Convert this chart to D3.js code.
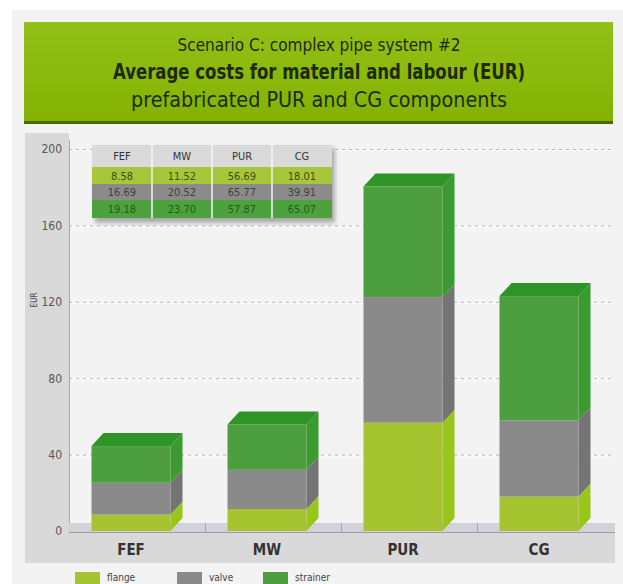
<!DOCTYPE html>
<html>
<head>
<meta charset="utf-8">
<script src="https://cdn.jsdelivr.net/npm/d3@7"></script>
<style>
  body { margin: 0; background: #fff; }
  svg text { font-family: "DejaVu Sans Condensed", "Liberation Sans Narrow", "Roboto", sans-serif; }
</style>
</head>
<body>
<div id="vis"></div>
<script>
// chart data
const categories = ["FEF", "MW", "PUR", "CG"];
const flange = [8.58, 11.52, 56.69, 18.01];
const valve = [16.69, 20.52, 65.77, 39.91];
const strainer = [19.18, 23.70, 57.87, 65.07];
const seriesNames = ["flange", "valve", "strainer"];
const yTicks = [0, 40, 80, 120, 160, 200];
const titleLines = [
    "Scenario C: complex pipe system #2",
    "Average costs for material and labour (EUR)",
    "prefabricated PUR and CG components"
];

let width = 623;
let height = 584;

var svg = d3.select("#vis")
    .append("svg")
    .attr("width", width)
    .attr("height", height);

var defs = svg.append("defs");
var grad = defs.append("linearGradient")
    .attr("id", "titleGrad")
    .attr("x1", 0).attr("y1", 0).attr("x2", 0).attr("y2", 1);
grad.append("stop").attr("offset", "0%").attr("stop-color", "#93c016");
grad.append("stop").attr("offset", "100%").attr("stop-color", "#84b203");

// light panel behind everything
svg.append("rect")
    .attr("x", 12).attr("y", 10)
    .attr("width", 611).attr("height", 574)
    .attr("fill", "#f3f3f3");

// title box
svg.append("rect")
    .attr("x", 24).attr("y", 24)
    .attr("width", 589).attr("height", 100)
    .attr("fill", "#4d6a00");
svg.append("rect")
    .attr("x", 24).attr("y", 22)
    .attr("width", 589).attr("height", 99)
    .attr("fill", "url(#titleGrad)");

var titleY = [51, 79, 107];
var titleSize = [18, 22, 21];
var titleW = [283, 412, 376];
svg.selectAll("text.title")
    .data(titleLines)
    .enter().append("text")
    .attr("class", "title")
    .attr("x", 319)
    .attr("y", (d, i) => titleY[i])
    .attr("text-anchor", "middle")
    .attr("font-size", (d, i) => titleSize[i])
    .attr("font-weight", (d, i) => i === 1 ? "bold" : "normal")
    .attr("textLength", (d, i) => titleW[i])
    .attr("lengthAdjust", "spacingAndGlyphs")
    .attr("fill", "#1e2a04")
    .text(d => d);

// axis frames
var plotLeft = 69, plotRight = 613;
svg.append("rect")
    .attr("x", 25).attr("y", 133)
    .attr("width", plotLeft - 25).attr("height", 430)
    .attr("fill", "#d9d9d9");
svg.append("rect")
    .attr("x", 25).attr("y", 533)
    .attr("width", 590).attr("height", 30)
    .attr("fill", "#d9d9d9");

var y = d3.scaleLinear()
    .domain([0, 200])
    .range([531, 149]);

var x = d3.scaleBand()
    .domain(categories)
    .range([plotLeft, plotRight]);

// dotted grid lines
var grid = svg.append("g");
grid.selectAll("line.w")
    .data(yTicks.filter(d => d > 0))
    .enter().append("line")
    .attr("x1", plotLeft).attr("x2", plotRight)
    .attr("y1", d => y(d) + 1.5).attr("y2", d => y(d) + 1.5)
    .attr("stroke", "#ffffff")
    .attr("stroke-width", 1);
grid.selectAll("line.g")
    .data(yTicks.filter(d => d > 0))
    .enter().append("line")
    .attr("x1", plotLeft).attr("x2", plotRight)
    .attr("y1", d => y(d) + 0.5).attr("y2", d => y(d) + 0.5)
    .attr("stroke", "#b5b5b5")
    .attr("stroke-dasharray", "3,4");

// y axis labels via d3 axis
var yAxis = svg.append("g")
    .attr("transform", "translate(" + (plotLeft - 4) + ",0)")
    .call(d3.axisLeft(y).tickValues(yTicks).tickSize(0).tickPadding(3));
yAxis.select(".domain").remove();
yAxis.selectAll("text")
    .attr("font-size", 12)
    .attr("fill", "#555")
    .attr("font-family", "\"DejaVu Sans Condensed\", sans-serif");

svg.append("text")
    .attr("transform", "translate(37,300) rotate(-90)")
    .attr("text-anchor", "middle")
    .attr("font-size", 8)
    .attr("fill", "#444")
    .text("EUR");

// vertical axis line
svg.append("line")
    .attr("x1", plotLeft + 0.5).attr("x2", plotLeft + 0.5)
    .attr("y1", 140).attr("y2", 533)
    .attr("stroke", "#a8a8a8");

// floor
svg.append("rect")
    .attr("x", plotLeft).attr("y", 523)
    .attr("width", plotRight - plotLeft + 2).attr("height", 9)
    .attr("fill", "#d2d3da");
svg.append("line")
    .attr("x1", plotLeft).attr("x2", plotRight + 2)
    .attr("y1", 532.5).attr("y2", 532.5)
    .attr("stroke", "#9c9ca6");
svg.selectAll("line.ftick")
    .data(categories.slice(1))
    .enter().append("line")
    .attr("x1", d => x(d) + 0.5).attr("x2", d => x(d) + 0.5)
    .attr("y1", 523).attr("y2", 532)
    .attr("stroke", "#a5a5ae");

// stacked 3d bars
var stack = d3.stack().keys(seriesNames);
var rows = categories.map((c, i) => ({
    cat: c, flange: flange[i], valve: valve[i], strainer: strainer[i]
}));
var layers = stack(rows);

var colors = {
    flange: { front: "#a6c430", side: "#98c61a", top: "#b4d23c" },
    valve: { front: "#8a8a8a", side: "#747474", top: "#9a9a9a" },
    strainer: { front: "#4c9e3e", side: "#3b9a30", top: "#2f9428" }
};

var barW = 79, dx = 12, dy = 13;

function frontX(cat) {
    return x(cat) + x.bandwidth() / 2 - (barW + dx) / 2;
}

var bars = svg.append("g");
layers.forEach(function (layer) {
    var c = colors[layer.key];
    var g = bars.append("g");
    layer.forEach(function (d) {
        var x0 = frontX(d.data.cat);
        var yb = y(d[0]), yt = y(d[1]);
        // side face
        g.append("path")
            .attr("d", "M" + (x0 + barW) + "," + yb +
                "L" + (x0 + barW + dx) + "," + (yb - dy) +
                "L" + (x0 + barW + dx) + "," + (yt - dy) +
                "L" + (x0 + barW) + "," + yt + "Z")
            .attr("fill", c.side);
        // front face
        g.append("rect")
            .attr("x", x0).attr("y", yt)
            .attr("width", barW).attr("height", yb - yt)
            .attr("fill", c.front);
        if (layer.key === "strainer") {
            g.append("path")
                .attr("d", "M" + x0 + "," + yt +
                    "L" + (x0 + dx) + "," + (yt - dy) +
                    "L" + (x0 + barW + dx) + "," + (yt - dy) +
                    "L" + (x0 + barW) + "," + yt + "Z")
                .attr("fill", c.top);
        }
    });
});

// category labels
svg.selectAll("text.cat")
    .data(categories)
    .enter().append("text")
    .attr("class", "cat")
    .attr("x", d => frontX(d) + barW / 2)
    .attr("y", 555)
    .attr("text-anchor", "middle")
    .attr("font-size", 15)
    .attr("font-weight", "bold")
    .attr("fill", "#333")
    .text(d => d);

// data table
var tX = 92, colW = 60;
var rowY = [145, 167, 184, 200, 218];
var tableRows = [flange, valve, strainer];
var rowFill = ["#a8c63a", "#8b8b8b", "#4ca23d"];
var rowText = ["#3d4d0c", "#3f3f3f", "#1f5a1c"];

var table = svg.append("g");
table.append("rect")
    .attr("x", tX + 3).attr("y", rowY[0] + 3)
    .attr("width", colW * 4).attr("height", rowY[4] - rowY[0] + 2)
    .attr("fill", "#555")
    .attr("opacity", 0.45)
    .style("filter", "blur(2px)");
table.selectAll("rect.head")
    .data(categories)
    .enter().append("rect")
    .attr("x", (d, i) => tX + i * colW)
    .attr("y", rowY[0])
    .attr("width", colW).attr("height", rowY[1] - rowY[0])
    .attr("fill", "#dadada");
tableRows.forEach(function (vals, r) {
    table.selectAll("rect.r" + r)
        .data(vals)
        .enter().append("rect")
        .attr("x", (d, i) => tX + i * colW)
        .attr("y", rowY[r + 1])
        .attr("width", colW).attr("height", rowY[r + 2] - rowY[r + 1])
        .attr("fill", rowFill[r]);
    table.selectAll("text.r" + r)
        .data(vals)
        .enter().append("text")
        .attr("x", (d, i) => tX + i * colW + colW / 2)
        .attr("y", (rowY[r + 1] + rowY[r + 2]) / 2 + 4)
        .attr("text-anchor", "middle")
        .attr("font-size", 11)
        .attr("fill", rowText[r])
        .text(d => d.toFixed(2));
});
table.selectAll("text.head")
    .data(categories)
    .enter().append("text")
    .attr("x", (d, i) => tX + i * colW + colW / 2)
    .attr("y", (rowY[0] + rowY[1]) / 2 + 4)
    .attr("text-anchor", "middle")
    .attr("font-size", 11)
    .attr("fill", "#333")
    .text(d => d);
table.selectAll("line.sep")
    .data([1, 2, 3])
    .enter().append("line")
    .attr("x1", d => tX + d * colW).attr("x2", d => tX + d * colW)
    .attr("y1", rowY[0]).attr("y2", rowY[4])
    .attr("stroke", "#f4f4f4")
    .attr("stroke-width", 1.5);

// legend along the bottom edge
var legX = [75, 177, 263];
var legend = svg.selectAll("g.leg")
    .data(seriesNames)
    .enter().append("g")
    .attr("transform", (d, i) => "translate(" + legX[i] + ",572)");
legend.append("rect")
    .attr("width", 25).attr("height", 12)
    .attr("fill", d => colors[d].front);
legend.append("text")
    .attr("x", 32).attr("y", 9)
    .attr("font-size", 10)
    .attr("fill", "#444")
    .text(d => d);
</script>
</body>
</html>
